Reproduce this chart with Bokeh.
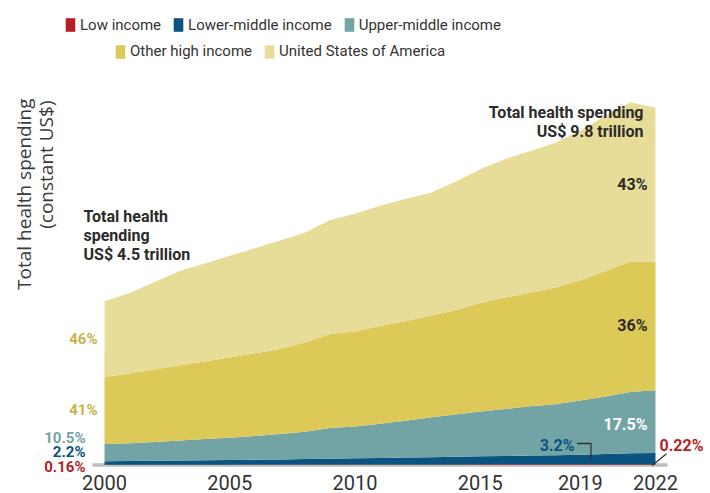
import math
from bokeh.plotting import figure
from bokeh.models import ColumnDataSource, Legend, LegendItem, Label, FixedTicker, Range1d
from bokeh.embed import file_html
from bokeh.resources import INLINE

# ---------------- data (trillion constant US$) ----------------
years = list(range(2000, 2023))
low_income = [0.007, 0.008, 0.008, 0.009, 0.010, 0.010, 0.011, 0.012, 0.013, 0.014, 0.014, 0.015,
              0.016, 0.016, 0.017, 0.018, 0.018, 0.019, 0.019, 0.020, 0.021, 0.022, 0.022]
lower_middle = [0.099, 0.10, 0.11, 0.115, 0.12, 0.13, 0.135, 0.14, 0.15, 0.16, 0.17, 0.18,
                0.19, 0.20, 0.21, 0.22, 0.23, 0.24, 0.25, 0.26, 0.28, 0.30, 0.31]
upper_middle = [0.47, 0.49, 0.51, 0.55, 0.58, 0.61, 0.65, 0.70, 0.75, 0.84, 0.87, 0.94,
                1.01, 1.09, 1.16, 1.23, 1.29, 1.35, 1.40, 1.49, 1.58, 1.68, 1.72]
other_high = [1.84, 1.91, 1.99, 2.06, 2.13, 2.20, 2.27, 2.33, 2.45, 2.58, 2.61, 2.68,
              2.73, 2.78, 2.86, 2.98, 3.06, 3.12, 3.20, 3.30, 3.44, 3.58, 3.53]
usa = [2.08, 2.21, 2.40, 2.59, 2.69, 2.79, 2.88, 2.98, 3.01, 3.13, 3.23, 3.30,
       3.35, 3.38, 3.52, 3.67, 3.80, 3.89, 3.97, 4.10, 4.26, 4.37, 4.22]

series_keys = ["low", "lm", "um", "oh", "us"]
series_labels = ["Low income", "Lower-middle income", "Upper-middle income",
                 "Other high income", "United States of America"]
series_colors = ["#b51f24", "#0b5481", "#72a4a6", "#dcc957", "#e8dc99"]
tick_years = [2000, 2005, 2010, 2015, 2019, 2022]

# ---------------- layout helpers (page pixels -> data) ----------------
PXYR = 551 / 22.0          # px per year
PXT = 164 / 4.5            # px per trillion
FRAME_W, FRAME_H = 710, 474
def fx(px):
    return 2000 + (px - 104) / PXYR
def fy(py):
    return (464.5 - py) / PXT

p = figure(frame_width=FRAME_W, frame_height=FRAME_H, output_backend="svg", toolbar_location=None,
           x_range=Range1d(fx(0), fx(FRAME_W)), y_range=Range1d(fy(FRAME_H), fy(0)),
           min_border_left=0, min_border_right=0, min_border_top=0, min_border_bottom=19)
p.outline_line_color = None
p.xgrid.visible = False
p.ygrid.visible = False
p.yaxis.visible = False
p.background_fill_color = "white"

src = ColumnDataSource(dict(year=years, low=low_income, lm=lower_middle, um=upper_middle,
                            oh=other_high, us=usa))

# baseline
p.segment(x0=[years[0] - 0.48], x1=[years[-1] + 0.48], y0=[0], y1=[0],
          line_color="#bdbdbd", line_width=3.5)

rends = p.varea_stack(stackers=series_keys, x="year", color=series_colors, source=src)

# ---------------- x axis ----------------
ax = p.xaxis[0]
ax.ticker = FixedTicker(ticks=tick_years)
ax.axis_line_color = None
ax.major_tick_line_color = None
ax.minor_tick_line_color = None
ax.major_tick_out = 0
ax.major_tick_in = 0
ax.major_label_standoff = 0
ax.major_label_text_font = "Roboto"
ax.major_label_text_font_size = "20px"
ax.major_label_text_color = "#333333"

# ---------------- legends ----------------
def make_legend(idx, loc):
    items = [LegendItem(label=series_labels[i], renderers=[rends[i]]) for i in idx]
    return Legend(items=items, orientation="horizontal", location=loc,
                  background_fill_alpha=0, border_line_alpha=0, padding=0, margin=0,
                  spacing=11, glyph_width=12, glyph_height=17, label_standoff=4,
                  label_height=17, label_text_font="Roboto",
                  label_text_font_size="15px", label_text_color="#333333",
                  label_text_baseline="middle")

p.add_layout(make_legend([0, 1, 2], (64, FRAME_H - 33.5)))
p.add_layout(make_legend([3, 4], (114, FRAME_H - 60)))

# ---------------- annotations ----------------
def lab(text, x, y, color, size="16px", align="left", baseline="middle", style="bold",
        font="Roboto", angle=0):
    p.add_layout(Label(x=x, y=y, text=text, text_color=color, text_font_size=size,
                       text_align=align, text_baseline=baseline, text_font_style=style,
                       text_font=font, angle=angle))

# left shares (2000)
tot0 = low_income[0] + lower_middle[0] + upper_middle[0] + other_high[0] + usa[0]
oh_top0 = tot0 - usa[0]
um_top0 = oh_top0 - other_high[0]
lab("46%", fx(97), (tot0 + oh_top0) / 2, "#c8b44c", "15px", "right")
lab("41%", fx(97), (oh_top0 + um_top0) / 2, "#c8b44c", "15px", "right")
lab("10.5%", fx(85), fy(437.5), "#72a4a6", "15px", "right")
lab("2.2%", fx(85), fy(451.5), "#0b5481", "15px", "right")
lab("0.16%", fx(85), fy(466), "#b51f24", "15px", "right")

# right shares (2022)
tot1 = low_income[-1] + lower_middle[-1] + upper_middle[-1] + other_high[-1] + usa[-1]
oh_top1 = tot1 - usa[-1]
um_top1 = oh_top1 - other_high[-1]
lab("43%", fx(647), (tot1 + oh_top1) / 2, "#2b2b2b", "16px", "right")
lab("36%", fx(647), (oh_top1 + um_top1) / 2, "#2b2b2b", "16px", "right")
lab("17.5%", fx(647), fy(424), "#ffffff", "16px", "right")
lab("3.2%", fx(574), fy(444.5), "#0b5481", "16px", "right")
lab("0.22%", fx(659), fy(444.5), "#b51f24", "16px", "left")

# callout lines
p.line(x=[fx(576.5), fx(590.5), fx(590.5)], y=[fy(443), fy(443), fy(460)],
       line_color="#333333", line_width=1.3)
p.line(x=[fx(651.5), fx(666)], y=[fy(465), fy(453.3)], line_color="#333333", line_width=1.3)

# total annotations
lab("Total health spending", fx(643), fy(111.5), "#2b2b2b", "16px", "right")
lab("US$ 9.8 trillion", fx(643), fy(131), "#2b2b2b", "16px", "right")
lab("Total health", fx(83), fy(216), "#2b2b2b", "16px", "left")
lab("spending", fx(83), fy(235), "#2b2b2b", "16px", "left")
lab("US$ 4.5 trillion", fx(83), fy(254), "#2b2b2b", "16px", "left")

# y axis title (rotated)
lab("Total health spending", fx(23.5), fy(98), "#3a3a3a", "19px", "right", "alphabetic",
    "normal", "Open Sans", math.pi / 2)
lab("(constant US$)", fx(45.5), fy(100), "#3a3a3a", "19px", "right", "alphabetic",
    "normal", "Open Sans", math.pi / 2)

open("out.html", "w").write(file_html(p, INLINE))
